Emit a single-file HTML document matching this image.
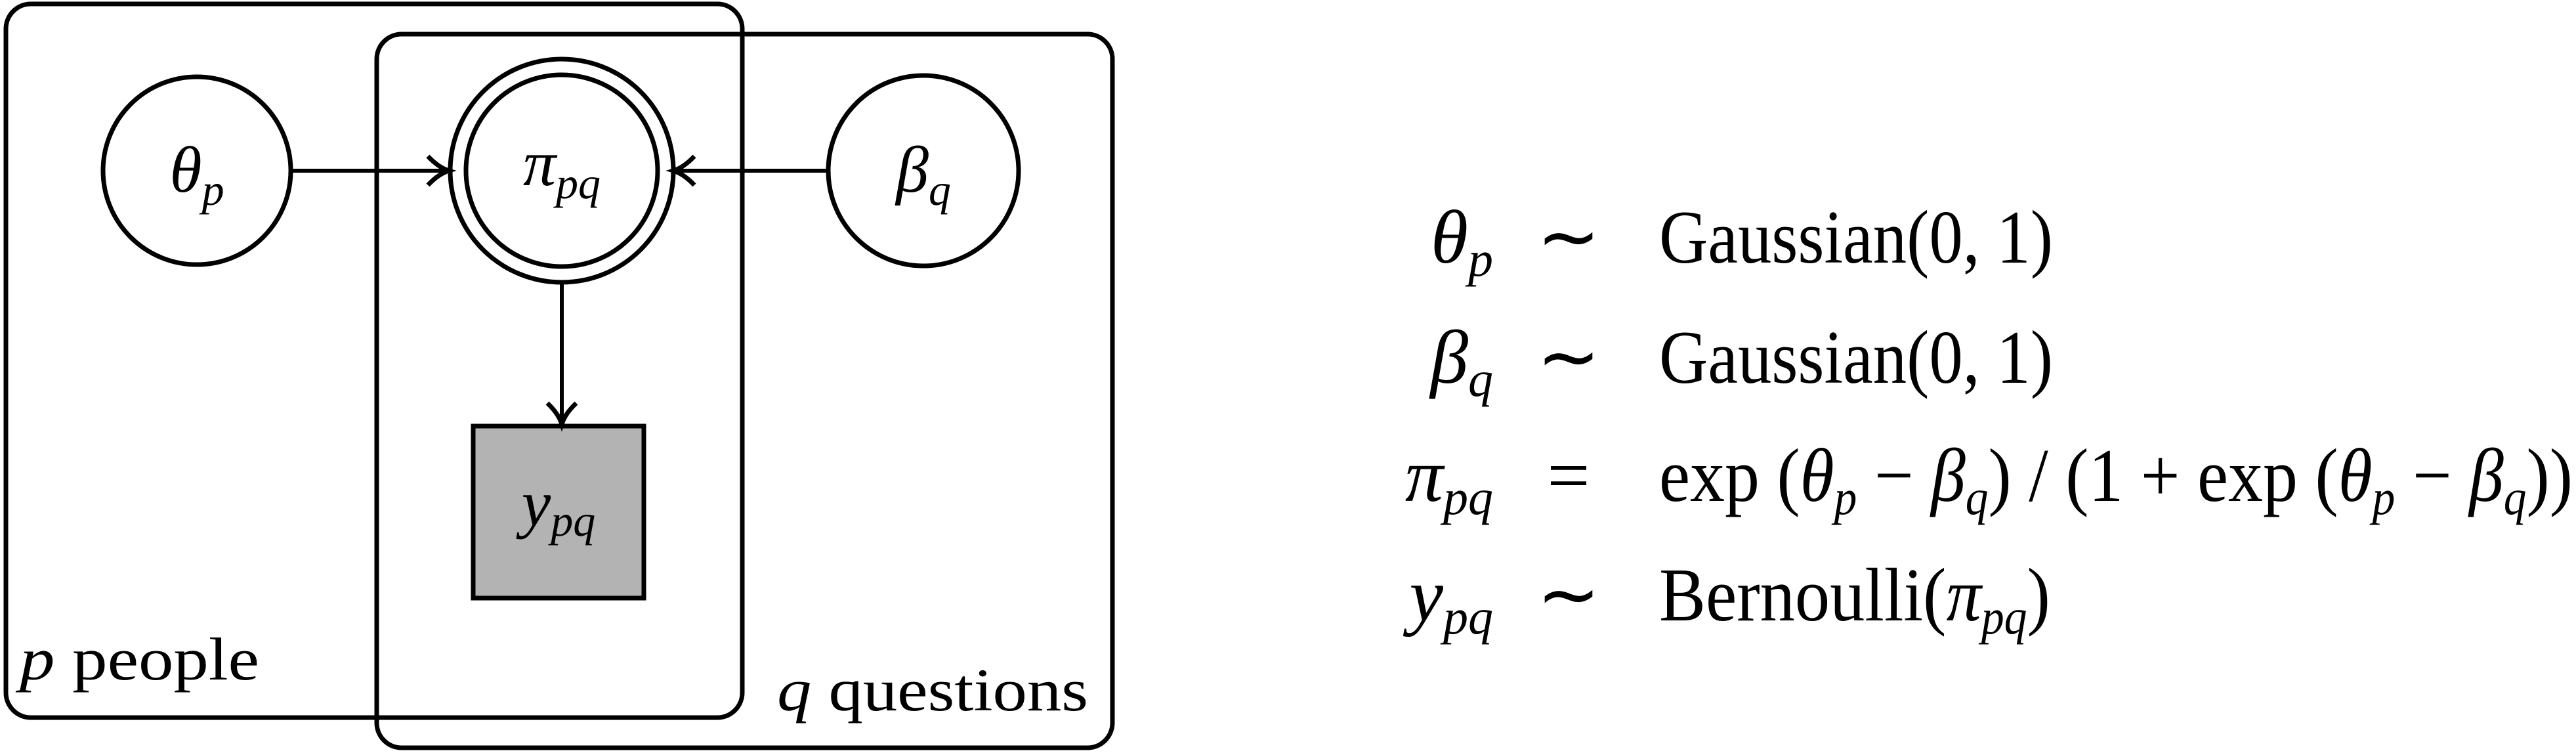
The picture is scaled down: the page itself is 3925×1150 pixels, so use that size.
<!DOCTYPE html>
<html><head><meta charset="utf-8"><style>
html,body{margin:0;padding:0;background:#fff;}
svg{display:block;}
text{font-family:"Liberation Serif",serif;fill:#000;}
.it{font-style:italic;}
</style></head><body>
<svg width="3925" height="1150" viewBox="0 0 3925 1150">
<g fill="none" stroke="#000" stroke-width="7">
<rect x="9" y="6" width="1122" height="1087" rx="38"/>
<rect x="574" y="52" width="1121" height="1087" rx="38"/>
<circle cx="300" cy="260" r="143"/>
<circle cx="856" cy="260" r="170"/>
<circle cx="856" cy="260" r="146"/>
<circle cx="1407" cy="260" r="145"/>
<rect x="721" y="649" width="260" height="262" fill="#b3b3b3"/>
<line x1="443" y1="260" x2="678" y2="260" stroke-width="6"/>
<line x1="1262" y1="260" x2="1030" y2="260" stroke-width="6"/>
<line x1="856" y1="432" x2="856" y2="642" stroke-width="6"/>
</g>
<g fill="none" stroke="#000" stroke-width="7">
<path d="M652,238 Q668,255 684,260 Q668,265 652,282"/>
<path d="M1058,238 Q1042,255 1026,260 Q1042,265 1058,282"/>
<path d="M834,614 Q851,630 856,646 Q861,630 878,614"/>
</g>
<text x="300" y="292" font-size="100" text-anchor="middle"><tspan class="it">θ</tspan><tspan class="it" font-size="68" dy="20">p</tspan></text>
<text x="856" y="282" font-size="100" text-anchor="middle"><tspan class="it">π</tspan><tspan class="it" font-size="68" dy="20">pq</tspan></text>
<text x="1407" y="292" font-size="100" text-anchor="middle"><tspan class="it">β</tspan><tspan class="it" font-size="68" dy="20">q</tspan></text>
<text x="851" y="800" font-size="100" text-anchor="middle"><tspan class="it">y</tspan><tspan class="it" font-size="68" dy="16">pq</tspan></text>
<text x="30" y="1035" font-size="92" textLength="365" lengthAdjust="spacingAndGlyphs"><tspan class="it">p</tspan> people</text>
<text x="1184" y="1082" font-size="92" textLength="474" lengthAdjust="spacingAndGlyphs"><tspan class="it">q</tspan> questions</text>

<g font-size="116">
<text x="2275" y="400" text-anchor="end"><tspan class="it">θ</tspan><tspan class="it" font-size="76" dy="20">p</tspan></text>
<text x="2390" y="400" text-anchor="middle">∼</text>
<text x="2528" y="400" textLength="600" lengthAdjust="spacingAndGlyphs">Gaussian(0, 1)</text>

<text x="2275" y="583" text-anchor="end"><tspan class="it">β</tspan><tspan class="it" font-size="76" dy="20">q</tspan></text>
<text x="2390" y="583" text-anchor="middle">∼</text>
<text x="2528" y="583" textLength="600" lengthAdjust="spacingAndGlyphs">Gaussian(0, 1)</text>

<text x="2275" y="763" text-anchor="end"><tspan class="it">π</tspan><tspan class="it" font-size="76" dy="20">pq</tspan></text>
<text x="2390" y="763" text-anchor="middle">=</text>
<text x="2528" y="763" textLength="1392" lengthAdjust="spacingAndGlyphs">exp (<tspan class="it">θ</tspan><tspan class="it" font-size="76" dy="20">p</tspan><tspan dy="-20"> − </tspan><tspan class="it">β</tspan><tspan class="it" font-size="76" dy="20">q</tspan><tspan dy="-20">) / (1 + exp (</tspan><tspan class="it">θ</tspan><tspan class="it" font-size="76" dy="20">p</tspan><tspan dy="-20"> − </tspan><tspan class="it">β</tspan><tspan class="it" font-size="76" dy="20">q</tspan><tspan dy="-20">))</tspan></text>

<text x="2275" y="945" text-anchor="end"><tspan class="it">y</tspan><tspan class="it" font-size="76" dy="20">pq</tspan></text>
<text x="2390" y="945" text-anchor="middle">∼</text>
<text x="2528" y="945" textLength="596" lengthAdjust="spacingAndGlyphs">Bernoulli(<tspan class="it">π</tspan><tspan class="it" font-size="76" dy="20">pq</tspan><tspan dy="-20">)</tspan></text>
</g>
</svg>
</body></html>
